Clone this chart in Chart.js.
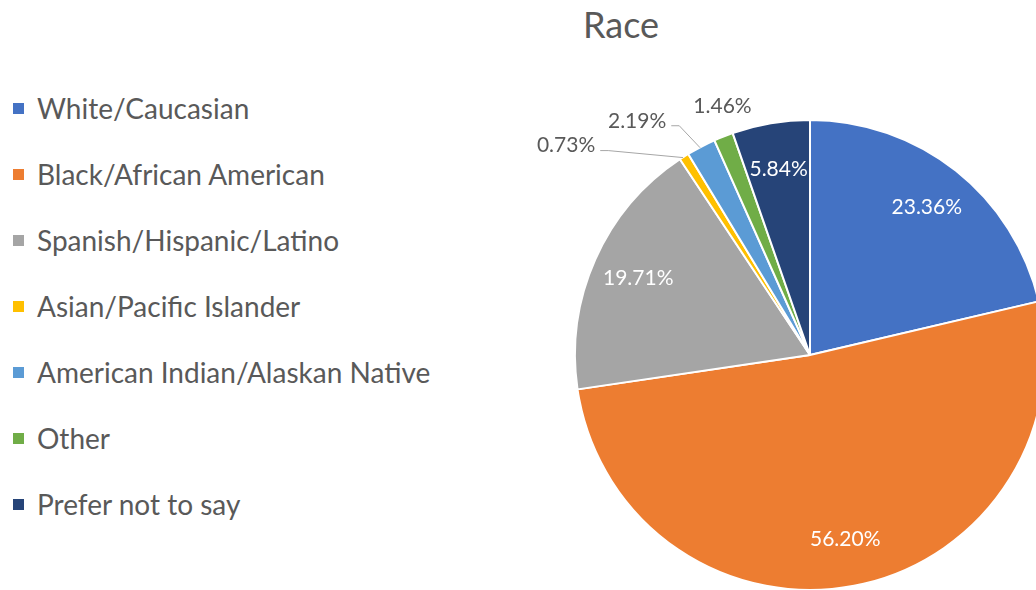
<!DOCTYPE html>
<html>
<head>
<meta charset="utf-8">
<script src="https://cdn.jsdelivr.net/npm/chart.js@4"></script>
<style>
  html, body { margin: 0; padding: 0; background: #fff; }
  body { width: 1036px; height: 590px; overflow: hidden; position: relative; font-family: Lato, "Open Sans", sans-serif; }
  .title { position: absolute; left: 521px; width: 200px; top: 2px; text-align: center; font-size: 36px; color: #595959; }
  .legend { position: absolute; left: 13px; top: 88px; }
  .legend-item { height: 66px; display: flex; align-items: flex-start; color: #595959; font-size: 28px; line-height: 40px; }
  .legend-box { width: 11px; height: 11px; margin-top: 15px; margin-right: 13px; flex: none; }
  #chart { position: absolute; left: 0; top: 0; }
</style>
</head>
<body>
<div class="title">Race</div>
<div class="legend" id="legend"></div>
<canvas id="chart" width="1100" height="650"></canvas>
<script>
// data
const categories = [
  "White/Caucasian",
  "Black/African American",
  "Spanish/Hispanic/Latino",
  "Asian/Pacific Islander",
  "American Indian/Alaskan Native",
  "Other",
  "Prefer not to say",
];
const shares = [23.36, 56.2, 19.71, 0.73, 2.19, 1.46, 5.84];
const colors = ["#4472C4", "#ED7D31", "#A5A5A5", "#FFC000", "#5B9BD5", "#70AD47", "#264478"];

// small slices get their label outside, nudged away from the slice edge
const outsideNudge = { 3: [-118, -11], 4: [-64, -26], 5: [-1, -30] };

// legend
const legend = document.getElementById("legend");
categories.forEach((name, i) => {
  const item = document.createElement("div");
  item.className = "legend-item";
  item.innerHTML = `<span class="legend-box" style="background:${colors[i]}"></span>${name}`;
  legend.appendChild(item);
});

// percent labels
const pieLabels = {
  id: "pieLabels",
  afterDatasetsDraw(chart) {
    const ctx = chart.ctx;
    const meta = chart.getDatasetMeta(0);
    ctx.save();
    ctx.font = "21px Lato";
    ctx.textAlign = "center";
    ctx.textBaseline = "middle";
    meta.data.forEach((arc, i) => {
      const { x, y, startAngle, endAngle, outerRadius } = arc.getProps(
        ["x", "y", "startAngle", "endAngle", "outerRadius"], true);
      const mid = (startAngle + endAngle) / 2;
      const text = shares[i].toFixed(2) + "%";
      const nudge = outsideNudge[i];
      if (!nudge) {
        const r = outerRadius * 0.8;
        ctx.fillStyle = "#ffffff";
        ctx.fillText(text, x + Math.cos(mid) * r, y + Math.sin(mid) * r);
        return;
      }
      const ax = x + Math.cos(mid) * outerRadius;
      const ay = y + Math.sin(mid) * outerRadius;
      const lx = ax + nudge[0];
      const ly = ay + nudge[1];
      ctx.fillStyle = "#595959";
      ctx.fillText(text, lx, ly);
      if (Math.abs(nudge[0]) > 30) {
        const w = ctx.measureText(text).width;
        const sx = lx + w / 2 + 5;
        const sy = ly + 5;
        ctx.strokeStyle = "#a6a6a6";
        ctx.lineWidth = 1;
        ctx.beginPath();
        ctx.moveTo(sx, sy);
        ctx.lineTo(sx + 8, sy);
        ctx.lineTo(ax - 1, ay + 1);
        ctx.stroke();
      }
    });
    ctx.restore();
  },
};

new Chart(document.getElementById("chart"), {
  type: "pie",
  data: {
    labels: categories,
    datasets: [
      {
        data: shares,
        backgroundColor: colors,
        borderColor: "#ffffff",
        borderWidth: 2,
      },
    ],
  },
  options: {
    responsive: false,
    animation: false,
    devicePixelRatio: 1,
    layout: { padding: { left: 574, right: 54, top: 119, bottom: 59 } },
    plugins: {
      legend: { display: false },
      tooltip: { enabled: false },
    },
  },
  plugins: [pieLabels],
});
</script>
</body>
</html>
